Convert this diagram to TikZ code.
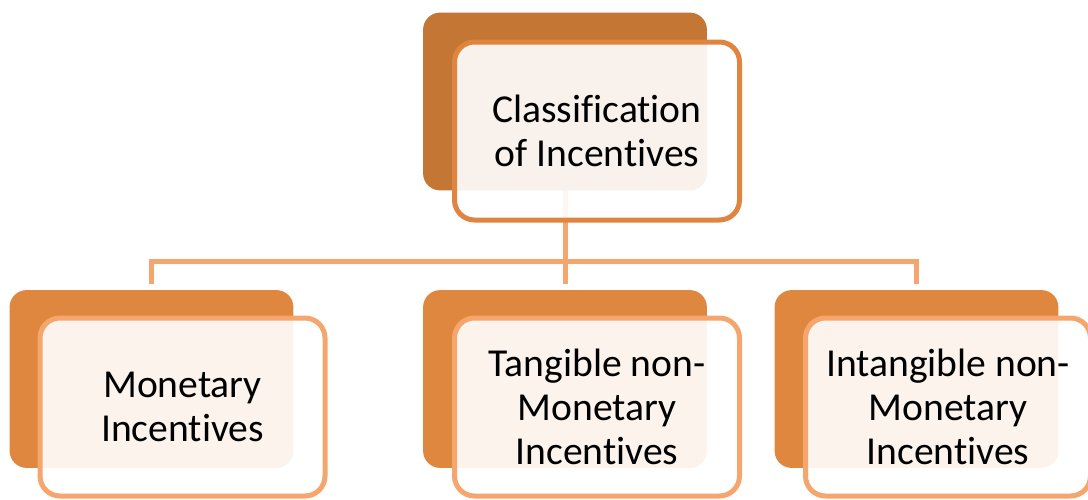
\documentclass[tikz,border=0pt]{standalone}
\usepackage{fontspec}
\setmainfont[RawFeature={-liga;-clig;-calt;-dlig}]{Carlito}

\definecolor{topshade}{HTML}{C47735}
\definecolor{topedge}{HTML}{E0853F}
\definecolor{subshade}{HTML}{E0873F}
\definecolor{subedge}{HTML}{F5A66E}

\begin{document}
\begin{tikzpicture}[x=0.5pt, y=-0.5pt,
        shade/.style={rectangle, rounded corners=8.5pt, minimum width=141.5pt, minimum height=88.5pt, inner sep=0pt},
        card/.style={rectangle, rounded corners=10pt, draw, line width=2.5pt, fill=white, fill opacity=0.9, text opacity=1,
            minimum width=142.5pt, minimum height=89pt, inner sep=0pt, align=center,
            font=\fontsize{19.8}{22}\selectfont},
        link/.style={draw=subedge, line width=2.5pt}]
    \clip (0, 0) rectangle (1088, 499);

    % connectors first, so the boxes sit on top
    \coordinate (split) at (565, 261);
    \node[shade] (top) at (565, 101.5) {};
    \node[shade] (mon) at (151.5, 379) {};
    \node[shade] (tan) at (565, 379) {};
    \node[shade] (intan) at (916.5, 379) {};

    \draw[link] (top.south) -- (split);
    \draw[link, shorten >=3pt] (split) -| (mon.north);
    \draw[link, shorten >=3pt] (split) -- (tan.north);
    \draw[link, shorten >=3pt] (split) -| (intan.north);

    % back shades
    \fill[topshade, rounded corners=8.5pt] (top.north west) rectangle (top.south east);
    \fill[subshade, rounded corners=8.5pt] (mon.north west) rectangle (mon.south east);
    \fill[subshade, rounded corners=8.5pt] (tan.north west) rectangle (tan.south east);
    \fill[subshade, rounded corners=8.5pt] (intan.north west) rectangle (intan.south east);

    % front cards with the text
    \node[card, draw=topedge] (topcard) at (597, 131) {Classification\\of Incentives};
    \node[card, draw=subedge] (moncard) at (182.5, 407) {Monetary\\Incentives};
    \node[card, draw=subedge] (tancard) at (597, 407) {Tangible non-\\Monetary\\Incentives};
    \node[card, draw=subedge] (intancard) at (948, 407) {Intangible non-\\Monetary\\Incentives};
\end{tikzpicture}
\end{document}
